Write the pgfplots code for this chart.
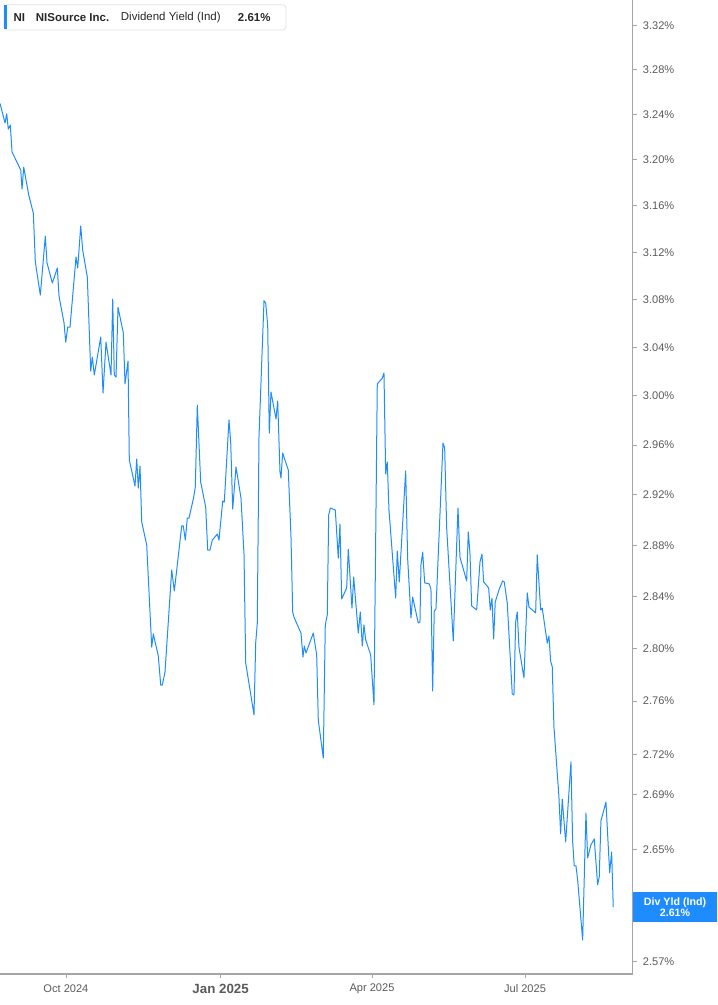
\documentclass[border=0pt]{standalone}
\usepackage{fontspec}
\setmainfont{Liberation Sans}
\usepackage{pgfplots}
\pgfplotsset{compat=1.18}

\definecolor{lineblue}{RGB}{30,140,255}
\definecolor{axisgray}{RGB}{165,165,165}
\definecolor{ticktext}{RGB}{90,90,90}
\definecolor{legtext}{RGB}{40,40,40}
\definecolor{legborder}{RGB}{225,225,225}

\begin{document}
\begin{tikzpicture}
\useasboundingbox (0,-23.25pt) rectangle (537.75pt,730.5pt);
\begin{axis}[
    at={(0,0)}, anchor=south west,
    scale only axis,
    width=474.5pt, height=730.5pt,
    xmin=-39.2, xmax=337,
    ymode=log, ymin=2.5615, ymax=3.3428,
    axis x line=bottom, axis y line=right,
    axis line style={-, axisgray, line width=0.9pt},
    tick align=outside,
    major tick length=3pt,
    tick style={axisgray, line width=0.6pt},
    xtick={0,92,182,273},
    xticklabels={Oct 2024,{\fontsize{10}{12}\selectfont\bfseries Jan 2025},Apr 2025,Jul 2025},
    xticklabel style={font=\fontsize{8.3}{10}\selectfont, text=ticktext, inner sep=0pt, anchor=center, yshift=-8pt},
    ytick={2.57,2.61,2.65,2.69,2.72,2.76,2.80,2.84,2.88,2.92,2.96,3.00,3.04,3.08,3.12,3.16,3.20,3.24,3.28,3.32},
    yticklabels={2.57\%,{},2.65\%,2.69\%,2.72\%,2.76\%,2.80\%,2.84\%,2.88\%,2.92\%,2.96\%,3.00\%,3.04\%,3.08\%,3.12\%,3.16\%,3.20\%,3.24\%,3.28\%,3.32\%},
    yticklabel style={font=\fontsize{8.3}{10}\selectfont, text=ticktext, inner sep=0pt, anchor=west, xshift=4.5pt},
    minor tick num=0,
    clip=false,
]
% Dividend yield, x = days since 1 Oct 2024
\addplot[lineblue, line width=0.75pt, line join=round] coordinates {
(-39.18,3.2497) (-36.21,3.2323) (-35.20,3.2403) (-34.25,3.2270) (-33.06,3.2306)
(-32.05,3.2068) (-26.87,3.1911) (-26.10,3.1745) (-25.09,3.1937) (-22.12,3.1693)
(-19.38,3.1537) (-18.19,3.1118) (-15.22,3.0838) (-12.25,3.1340) (-11.24,3.1110)
(-8.09,3.0940) (-5.11,3.1067) (-4.10,3.0830) (-1.13,3.0604) (-0.12,3.0445)
(1.07,3.0570) (2.44,3.0570) (6.00,3.1161) (7.02,3.1067) (8.80,3.1426)
(9.99,3.1220) (12.72,3.0991) (14.74,3.0205) (15.70,3.0320) (16.88,3.0172)
(20.69,3.0487) (22.06,3.0024) (23.84,3.0445) (26.81,3.0172) (27.82,3.0804)
(28.77,3.0172) (29.79,3.0156) (30.97,3.0737) (34.13,3.0520) (35.14,3.0098)
(36.92,3.0287) (37.69,2.9479) (41.08,2.9270) (42.09,2.9487) (43.04,2.9254)
(44.05,2.9431) (45.07,2.8984) (48.04,2.8802) (51.01,2.8010) (51.96,2.8110)
(54.93,2.7941) (56.36,2.7721) (57.31,2.7721) (58.92,2.7820) (62.90,2.8606)
(64.45,2.8442) (68.85,2.8952) (69.80,2.8952) (70.99,2.8841) (72.18,2.9015)
(73.19,2.9015) (75.74,2.9166) (76.93,2.9262) (78.12,2.9925) (80.14,2.9302)
(83.11,2.9103) (84.30,2.8762) (85.67,2.8762) (87.04,2.8841) (90.01,2.8889)
(91.02,2.8841) (93.22,2.9150) (94.17,2.9142) (96.97,2.9803) (97.98,2.9624)
(99.17,2.9087) (101.13,2.9423) (104.10,2.9174) (105.89,2.8731) (106.90,2.7888)
(111.83,2.7495) (112.84,2.8041) (113.79,2.8195) (114.80,2.9665) (117.78,3.0790)
(118.79,3.0771) (119.98,3.0587) (120.93,2.9697) (121.94,3.0032) (124.91,2.9811)
(125.92,2.9958) (127.29,2.9383) (127.88,2.9334) (128.89,2.9535) (132.22,2.9399)
(133.83,2.8865) (134.84,2.8280) (135.79,2.8233) (139.77,2.8118) (140.96,2.7934)
(141.74,2.8018) (142.75,2.7964) (147.09,2.8118) (149.11,2.7949) (150.06,2.7457)
(153.03,2.7173) (154.22,2.8180) (155.41,2.8257) (156.24,2.9039) (157.19,2.9095)
(160.17,2.9079) (161.95,2.8700) (162.96,2.8968) (163.97,2.8380) (166.94,2.8466)
(167.90,2.8770) (170.09,2.8310) (171.11,2.8551) (173.84,2.8118) (175.03,2.8280)
(176.22,2.8018) (177.23,2.8180) (178.24,2.8064) (181.21,2.7949) (183.17,2.7570)
(185.14,3.0098) (188.11,3.0147) (189.12,3.0188) (190.13,2.9367) (191.08,2.9463)
(192.09,2.9079) (196.08,2.8388) (197.03,2.8754) (198.22,2.8512) (202.02,2.9391)
(203.21,2.8692) (205.17,2.8233) (206.18,2.8395) (209.51,2.8195) (210.52,2.8203)
(211.12,2.8645) (212.13,2.8746) (213.32,2.8505) (216.05,2.8497) (217.06,2.8458)
(218.07,2.7675) (219.02,2.8287) (220.04,2.8303) (224.20,2.9616) (225.21,2.9575)
(226.40,2.8936) (230.32,2.8056) (233.12,2.9095) (234.30,2.8707) (238.29,2.8520)
(239.24,2.8905) (240.25,2.8739) (241.26,2.8326) (244.23,2.8295) (246.20,2.8668)
(247.38,2.8731) (248.40,2.8512) (251.37,2.8466) (252.32,2.8295) (253.33,2.8388)
(254.34,2.8072) (255.29,2.8357) (257.67,2.8458) (259.69,2.8520) (260.64,2.8512)
(262.42,2.8349) (265.40,2.7653) (266.41,2.7645) (267.42,2.8203) (268.37,2.8280)
(269.38,2.8010) (272.35,2.7774) (274.32,2.8427) (275.33,2.8318) (279.31,2.8272)
(280.26,2.8723) (282.28,2.8295) (283.23,2.8310) (286.21,2.8041) (287.22,2.8095)
(288.23,2.7903) (289.18,2.7858) (290.19,2.7405) (293.16,2.6885) (294.17,2.6615)
(295.12,2.6870) (297.15,2.6556) (300.30,2.7143) (301.31,2.6556) (302.26,2.6383)
(303.27,2.6383) (304.28,2.6283) (307.25,2.5855) (309.21,2.6768) (310.23,2.6441)
(312.19,2.6535) (314.15,2.6578) (316.17,2.6247) (317.12,2.6304) (318.13,2.6710)
(321.11,2.6848) (323.31,2.6333) (324.49,2.6484) (325.45,2.6089)
};
\end{axis}

\begin{scope}[x=0.75pt, y=0.75pt]
  % header box
  \draw[legborder, fill=white, rounded corners=2.5pt, line width=0.6pt] (4,944) rectangle (286,969.3);
  \fill[lineblue] (4,944.5) rectangle (6.8,968.8);
  \node[anchor=west, inner sep=0pt, text=legtext, font=\fontsize{8.6}{10}\selectfont\bfseries] at (13.3,956.6) {NI};
  \node[anchor=west, inner sep=0pt, text=legtext, font=\fontsize{8.6}{10}\selectfont\bfseries] at (35.7,956.6) {NISource Inc.};
  \node[anchor=west, inner sep=0pt, text=legtext, font=\fontsize{8.6}{10}\selectfont] at (120.7,956.6) {Dividend Yield (Ind)};
  \node[anchor=west, inner sep=0pt, text=legtext, font=\fontsize{8.6}{10}\selectfont\bfseries] at (237.7,956.6) {2.61\%};
  % last value tag
  \fill[lineblue] (632.7,51.7) rectangle (717,81.7);
  \node[text=white, inner sep=0pt, font=\fontsize{8}{9}\selectfont\bfseries] at (675,71.5) {Div Yld (Ind)};
  \node[text=white, inner sep=0pt, font=\fontsize{8}{9}\selectfont\bfseries] at (675,61) {2.61\%};
\end{scope}
\end{tikzpicture}
\end{document}
